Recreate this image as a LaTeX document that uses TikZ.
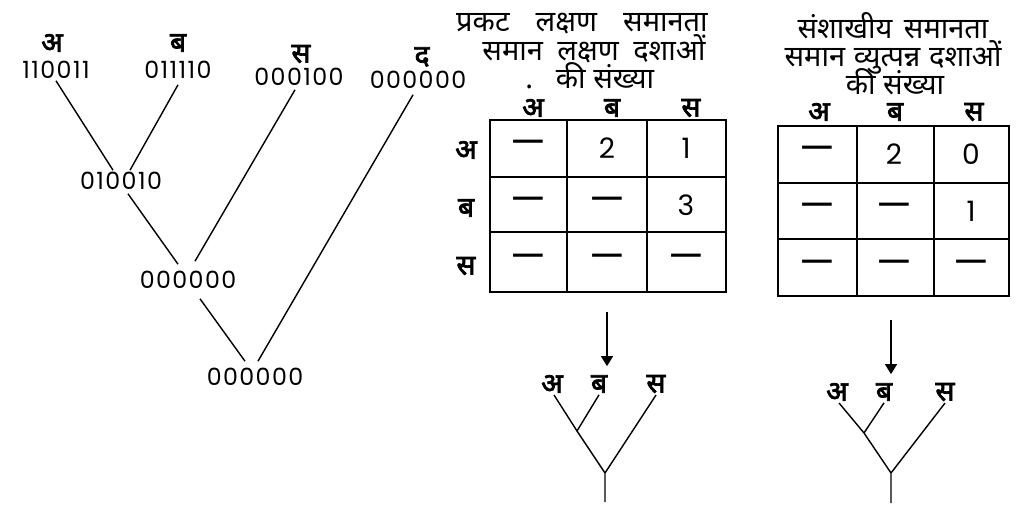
\documentclass[tikz,border=0pt]{standalone}
\usepackage{fontspec}
\setmainfont{Poppins}
\newfontfamily\hindi[Script=Devanagari]{Noto Sans}
\newfontfamily\hindib[Script=Devanagari,FakeBold=2.5]{Noto Sans}
\newfontfamily\digits[LetterSpace=6]{Poppins}
\usetikzlibrary{positioning,arrows.meta,calc}

\begin{document}
\begin{tikzpicture}[x=0.02cm,y=-0.02cm,
  num/.style={font=\digits\fontsize{13.5}{15}\selectfont,inner sep=1pt},
  lbl/.style={font=\hindib\fontsize{16}{18}\selectfont,inner sep=1pt},
  ttl/.style={font=\hindi\fontsize{16.5}{18}\selectfont,anchor=base,inner sep=0pt},
  cell/.style={font=\fontsize{16}{18}\selectfont},
  dsh/.style={font=\fontsize{23}{25}\selectfont},
  edge/.style={line width=.8pt},
  grid/.style={line width=1pt},
  arr/.style={-{Triangle[length=2mm,width=2.4mm]},line width=.8pt,shorten >=1.4mm}]
\useasboundingbox (0,0) rectangle (1024,506);
% left tree: leaves
\node[num] (la) at (56,70) {110011};
\node[num] (lb) at (178,70) {011110};
\node[num] (lc) at (299,77) {000100};
\node[num] (ld) at (418,80) {000000};
\node[lbl] (ta) at (52,43) {अ};
\node[lbl] (tb) at (178,43) {ब};
\node[lbl] (tc) at (301,54) {स};
\node[lbl] (td) at (422,57) {द};
% left tree: ancestors
\node[num] (n1) at (121,181) {010010};
\node[num] (n2) at (188,280) {000000};
\node[num] (n3) at (255,377) {000000};
\draw[edge] (la.south) -- ($(n1.north)+(-8,0)$);
\draw[edge] ($(lb.south)+(0,4)$) -- ($(n1.north)+(9,0)$);
\draw[edge] ($(n1.south)+(7,2)$) -- ($(n2.north)+(-10,-5)$);
\draw[edge] ($(lc.south)+(-4,2)$) -- ($(n2.north)+(7,-8)$);
\draw[edge] ($(n2.south)+(12,8)$) -- ($(n3.north)+(-10,-5)$);
\draw[edge] ($(ld.south)+(-5,4)$) -- ($(n3.north)+(3,-5)$);
% table 1
\node[ttl] (t1a) at (582,32) {प्रकट\hspace{.9em}लक्षण\hspace{.9em}समानता};
\node[ttl] (t1b) at (594,61) {समान\hspace{.5em}लक्षण\hspace{.5em}दशाओं};
\node[ttl,anchor=base west] (t1c) at (525,89) {.\hspace{13pt}की संख्या};
\draw[grid] (490,120) rectangle (726,292);
\foreach \x in {567,647} \draw[grid] (\x,120) -- (\x,292);
\foreach \y in {177,232} \draw[grid] (490,\y) -- (726,\y);
\foreach \s/\t [count=\i from 0] in {dsh/—,cell/2,cell/1,dsh/—,dsh/—,cell/3,dsh/—,dsh/—,dsh/—}{
  \pgfmathtruncatemacro\c{mod(\i,3)}
  \pgfmathtruncatemacro\r{div(\i,3)}
  \node[\s] (p\i) at ({528+79*\c},{148+57*\r}) {\t};}
\foreach \t [count=\i from 0] in {अ,ब,स}{
  \node[lbl] (ph\i) at ({533+79*\i},108) {\t};
  \node[lbl] (pr\i) at (466,{150+58*\i}) {\t};}
% table 2
\node[ttl] (t2a) at (893,39) {संशाखीय\hspace{.4em}समानता};
\node[ttl] (t2b) at (893,67) {समान\hspace{.3em}व्युत्पन्न\hspace{.3em}दशाओं};
\node[ttl] (t2c) at (895,95) {की संख्या};
\draw[grid] (778,126) rectangle (1009,296);
\foreach \x in {857,934} \draw[grid] (\x,126) -- (\x,296);
\foreach \y in {183,239} \draw[grid] (778,\y) -- (1009,\y);
\foreach \s/\t [count=\i from 0] in {dsh/—,cell/2,cell/0,dsh/—,dsh/—,cell/1,dsh/—,dsh/—,dsh/—}{
  \pgfmathtruncatemacro\c{mod(\i,3)}
  \pgfmathtruncatemacro\r{div(\i,3)}
  \node[\s] (q\i) at ({817+77*\c},{154+57*\r}) {\t};}
\foreach \t/\x [count=\i from 0] in {अ/819,ब/895,स/974}
  \node[lbl] (qh\i) at (\x,112) {\t};
% small tree 1
\node[lbl] (sa) at (552,384) {अ};
\node[lbl] (sb) at (599,384) {ब};
\node[lbl] (sc) at (656,384) {स};
\coordinate (sj) at (577,431);
\coordinate (sr) at (605,473);
\coordinate (sz) at (605,502);
\coordinate (st) at (607,312);
\draw[arr] (st) -- (st |- sb.north);
\draw[edge] ($(sa.south)+(2,0)$) -- (sj) -- (sr) -- (sz);
\draw[edge] (sb.south) -- (sj);
\draw[edge] (sc.south) -- (sr);
% small tree 2
\node[lbl] (ua) at (837,392) {अ};
\node[lbl] (ub) at (884,392) {ब};
\node[lbl] (uc) at (945,392) {स};
\coordinate (uj) at (864,433);
\coordinate (ur) at (891,473);
\coordinate (uz) at (891,503);
\coordinate (ut) at (891,320);
\draw[arr] (ut) -- (ut |- ub.north);
\draw[edge] ($(ua.south)+(2,0)$) -- (uj) -- (ur) -- (uz);
\draw[edge] (ub.south) -- (uj);
\draw[edge] (uc.south) -- (ur);
\end{tikzpicture}
\end{document}
